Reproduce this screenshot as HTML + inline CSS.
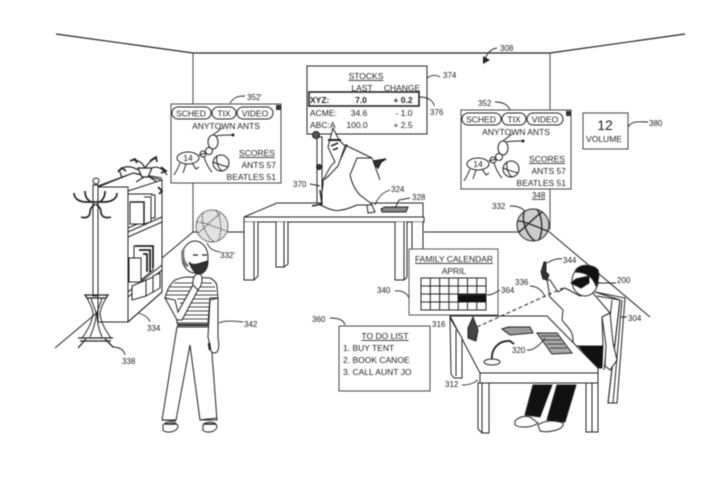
<!DOCTYPE html>
<html><head><meta charset="utf-8"><style>
html,body{margin:0;padding:0;background:#fff}
svg{display:block;filter:blur(.45px)}
text{font-family:"Liberation Sans",sans-serif;font-size:8.5px;fill:#222}
.n{font-size:8px}
.m{text-anchor:middle}
.e{text-anchor:end}
.f{fill:#fff}
</style></head><body>
<svg width="726" height="486" viewBox="0 0 726 486" fill="none" stroke="#222" stroke-width="1">
<!-- room -->
<path d="M56 34L193 53H550L685 34" stroke-width="1.2"/>
<path d="M193 53V232M550 53V230" stroke="#555" stroke-width="1.1"/>
<path d="M55 348L193 232H244M424 232H533M547 230L650 317"/>
<!-- back table -->
<path class="f" d="M244 217L277 203H423V217Z"/>
<path d="M244 217V222H424V217M244 217H424"/>
<path class="f" d="M244 222V280H254L258 276V222M276 222V267H284L288 264V222M395 222V280H404L407 277V222M412 222V250H423V222"/>
<path d="M254 222V280M284 222V267M404 222V280"/>
<!-- balls -->
<circle cx="212" cy="226" r="16" fill="#e2e2e2" stroke-dasharray="1.500 1"/><path d="M197 222C205 222 222 230 227 231M203 213C200 225 208 238 214 242M216 210C222 220 222 232 218 241M198 233C205 228 215 216 222 213" stroke="#555" stroke-dasharray="2 1"/>
<circle cx="533" cy="225" r="16" fill="#ccc"/><path d="M518 221C526 221 543 230 548 231M524 212C521 224 529 237 535 241M537 209C543 219 543 231 539 240M519 232C526 227 536 215 543 212" stroke-width="1.3"/>
<!-- bookcase -->
<path class="f" d="M98 187L133 173L162 180V292L128 322H98Z"/>
<path d="M98 187H128V322H98M98 186L133 173L162 178M128 191L162 180V292M128 322L162 292"/>
<path d="M128 232L162 217M128 237L162 222M128 292L162 265M128 297L162 270"/>
<path class="f" d="M128 194H152V218L128 228Z"/>
<path class="f" d="M130 202H144V224H130ZM144 197H151V222L144 224M151 195H155V218H151"/>
<path d="M130 202H144V224" stroke-width="1.500"/>
<path class="f" d="M129 258H141V282H129Z"/><path class="f" d="M134 246H153V270L141 280V258H134Z"/>
<path d="M135 246H153V268M139 250H150V272M143 254H147V272" stroke-width="1.8"/>
<path class="f" d="M132 286L146 280V296L132 300ZM146 280L153 277V292L146 296ZM153 276L160 273V288L153 292Z"/>
<!-- plant -->
<g stroke-width="1.2"><path class="f" d="M138 168H152L148 177H142Z"/><path d="M118 171C124 165 132 166 138 170M122 178L120 172M132 160C138 160 142 162 145 168M145 168C150 160 156 158 156 158M152 168C158 165 164 170 167 175M148 176L157 182M144 177L136 182"/><path d="M118 172l4-4 4 3M130 161l5-2 2 4M150 161l6-4 1 5M161 167l5 4-5 2M158 187l4 4-3 3" stroke-width="1.700"/></g>
<!-- hat stand -->
<path class="f" d="M93 185H98V296H93Z"/><circle class="f" cx="96" cy="181" r="3"/>
<g stroke-width="1.700">
<path d="M74 193C74 199 80 202 86 202H104C111 202 117 199 117 193M85 191C85 198 88 200 91 202M105 191C105 198 102 200 100 202"/>
<path d="M81 217C87 219 90 216 90 212C90 208 93 206 95 204M111 217C105 219 101 216 101 212C101 208 98 206 96 204"/>
</g>
<path d="M85 295H108L106 298H87Z" stroke-width="1.300"/>
<path d="M87 298C90 304 93 309 93 314C92 322 88 330 82 338M106 298C103 304 100 309 100 314C101 322 105 330 111 338M91 298C93 306 96 310 96 314C96 322 93 330 90 337M102 298C100 306 97 310 97 314C97 322 99 330 102 337"/>
<path d="M78 338H113M78 348L86 339M113 347L105 339M80 341H111" stroke-width="1.300"/>
<!-- man -->
<path class="f" d="M177 327L162 420H176L190 345L200 420H217L210 327Z"/>
<path d="M162 420L176 421M200 420L217 418"/>
<path class="f" d="M163 425C166 421 176 421 178 426C178 432 166 434 163 430ZM203 425C206 421 215 421 217 426C217 432 206 434 203 430Z"/>
<path d="M203 424H216M165 424H176" stroke-width="1.6"/>
<path class="f" d="M175 280C180 278 185 277 188 277L210 278C214 280 217 283 217 287L218 298H210L208 323H177L176 312L165 298C167 290 170 284 175 280Z"/>
<path d="M174 283H212M170 287H215M168 291H216M166 295H217M177 299H210M180 303H209M180 307H209M180 311H209M180 315H209M180 319H209" stroke="#444" stroke-width=".9"/>
<path d="M177 325H209" stroke-width="2"/>
<path class="f" d="M165 298L177 320H182L198 290L197 282L193 285L178 312L175 300Z"/>
<path class="f" d="M193 285C192 278 196 272 200 274C203 276 203 284 198 290Z"/>
<path class="f" d="M210 300L208 337L210 345C208 352 216 356 218 350C220 346 218 340 218 337V298Z"/>
<path d="M209 343L210 350" stroke-width="2.5"/>
<ellipse class="f" cx="195" cy="257" rx="13" ry="16"/>
<path d="M183 250C182 258 184 264 188 266" stroke="#777" stroke-width="3"/>
<path d="M189 262C193 267 200 263 208 261C208 268 205 273 200 274C196 275 192 270 189 262Z" fill="#333"/>
<path d="M193 255h5M202 255h5" stroke-width="1.300"/>
<!-- stock panel -->
<rect class="f" x="307" y="66" width="120" height="68"/>
<rect x="309" y="92" width="110" height="14" stroke-width="1.6"/>
<text x="366" y="79" class="m" text-decoration="underline" stroke="none">STOCKS</text>
<text x="362" y="91" class="m" stroke="none">LAST</text><text x="402" y="91" class="m" stroke="none">CHANGE</text>
<g stroke="none"><text x="310" y="103" style="font-weight:700">XYZ:</text><text x="361" y="103" class="m" style="font-weight:700">7.0</text><text x="403" y="103" class="m" style="font-weight:700">+ 0.2</text>
<text x="310" y="116">ACME:</text><text x="359" y="116" class="m">34.6</text><text x="404" y="116" class="m">- 1.0</text>
<text x="310" y="128">ABC:A</text><text x="357" y="128" class="m">100.0</text><text x="403" y="128" class="m">+ 2.5</text></g>
<!-- wizard -->
<path class="f" d="M345 145L372 158L380 180L372 158L357 158L350 175C352 184 355 190 360 195C366 200 370 202 372 205L357 205C350 208 340 212 333 210C328 209 323 206 320 205L323 185V180L337 167L347 145Z"/>
<path class="f" d="M323 180C328 172 330 165 335 162L328 147L333 128L339 140L345 146L338 166C332 172 328 178 323 180Z"/>
<path d="M328 140H341" stroke-width="2"/>
<path d="M331 146L338 143M333 150L338 148" stroke-width="1.500"/>
<path class="f" d="M317 137H322V203H317Z"/><circle cx="316" cy="135" r="3.500" fill="#555"/>
<path d="M312 206L322 204L320 190" stroke-width="1.500"/><circle cx="319" cy="167" r="2.500" fill="#333"/>
<path d="M374 161l12-2-5 3-3 6-3-3z" stroke-width="1.500" fill="#333"/>
<path class="f" d="M367 205L372 205L375 212L368 213Z"/>
<!-- notebook etc. -->
<path d="M381 209L385 207H408L406 212H382Z" fill="#888"/>
<!-- panel 352' -->
<rect class="f" x="171" y="104" width="110" height="79" stroke="#444"/>
<rect x="276" y="105" width="5" height="5" fill="#333" stroke="none"/>
<rect x="172" y="107" width="39" height="12" rx="6"/><rect x="212" y="107" width="24" height="12" rx="6"/><rect x="237" y="107" width="36" height="12" rx="6"/>
<g stroke="none"><text x="191" y="116.500" class="m">SCHED</text><text x="224" y="116.500" class="m">TIX</text><text x="255" y="116.500" class="m">VIDEO</text>
<text x="226" y="129" class="m">ANYTOWN ANTS</text>
<text x="257" y="156" class="m" text-decoration="underline">SCORES</text><text x="276" y="168" class="e">ANTS  57</text><text x="276" y="180" class="e">BEATLES  51</text></g>
<ellipse class="f" cx="213" cy="142" rx="5" ry="7"/><path d="M213 135L222 128M216 136C220 135 228 135 233 135"/><circle cx="233" cy="135" r="1" fill="#222"/>
<circle class="f" cx="209" cy="151" r="3.500"/><circle class="f" cx="203" cy="154" r="3"/><ellipse class="f" cx="188" cy="158" rx="11" ry="6"/>
<path d="M199 155L206 153M180 163C178 168 176 172 174 175M186 164L183 173M192 163L196 169L199 167M204 157C206 163 208 168 212 172"/><circle class="f" cx="221" cy="163" r="8"/><path d="M213 162C218 164 224 166 228 167M217 156C216 162 218 168 222 171"/>
<text x="188" y="161" class="m" stroke="none">14</text>
<!-- panel 352 -->
<rect class="f" x="461" y="110" width="110" height="79" stroke="#444"/>
<rect x="566" y="111" width="5" height="5" fill="#333" stroke="none"/>
<rect x="462" y="113" width="39" height="12" rx="6"/><rect x="502" y="113" width="24" height="12" rx="6"/><rect x="527" y="113" width="36" height="12" rx="6"/>
<g stroke="none"><text x="481" y="122.500" class="m">SCHED</text><text x="514" y="122.500" class="m">TIX</text><text x="545" y="122.500" class="m">VIDEO</text>
<text x="516" y="135" class="m">ANYTOWN ANTS</text>
<text x="547" y="162" class="m" text-decoration="underline">SCORES</text><text x="566" y="174" class="e">ANTS  57</text><text x="566" y="186" class="e">BEATLES  51</text></g>
<g transform="translate(290 6)"><ellipse class="f" cx="213" cy="142" rx="5" ry="7"/><path d="M213 135L222 128M216 136C220 135 228 135 233 135"/><circle cx="233" cy="135" r="1" fill="#222"/>
<circle class="f" cx="209" cy="151" r="3.500"/><circle class="f" cx="203" cy="154" r="3"/><ellipse class="f" cx="188" cy="158" rx="11" ry="6"/>
<path d="M199 155L206 153M180 163C178 168 176 172 174 175M186 164L183 173M192 163L196 169L199 167M204 157C206 163 208 168 212 172"/><circle class="f" cx="221" cy="163" r="8"/><path d="M213 162C218 164 224 166 228 167M217 156C216 162 218 168 222 171"/></g>
<text x="478" y="167" class="m" stroke="none">14</text>
<!-- volume -->
<rect class="f" x="583" y="113" width="45" height="36" stroke="#444"/>
<text x="605" y="130" class="m" stroke="none" style="font-size:14px">12</text>
<text x="604" y="142" class="m" stroke="none" style="font-size:8.500px">VOLUME</text>
<!-- chair -->
<path class="f" d="M595 292L625 298L617 403H608L620 300Z"/><path d="M597 296L620 300L608 403M612 300L604 370M622 300L613 403"/>
<!-- seated person -->
<path d="M533 385H552L540 417L525 415ZM557 385H576L565 422L547 420Z" fill="#111"/>
<path d="M578 345H603L602 368H595Z" fill="#111"/>
<path class="f" d="M515 421C520 416 526 416 530 417L538 423C532 428 520 428 515 425ZM538 425C545 420 555 420 563 423C565 430 548 433 540 431Z"/>
<path class="f" d="M563 310L562 320C566 326 573 330 573 340V346H603L602 317L610 313L593 293L580 296L565 288L558 292L550 280L547 280L550 297Z"/>
<path class="f" d="M610 313L613 343L617 360L610 370L605 366L606 345L602 317Z"/>
<path d="M541 272L544 262L546 262L546 272L549 275L547 280L543 279Z" fill="#333"/>
<ellipse class="f" cx="585" cy="281" rx="13" ry="15"/>
<path d="M575 272C577 264 592 263 598 270C600 276 598 282 596 286C593 278 588 272 575 272Z" fill="#111"/>
<path d="M571 283L576 279L589 276L589 283L581 288L575 285Z" fill="#111"/>
<path d="M595 283L600 283" stroke-width="1.300"/>
<!-- desk -->
<path class="f" d="M450 316H547L598 368V383H480V373Z"/>
<path d="M480 373H598M480 373V383"/>
<path class="f" d="M450 318L462 338V378H454L451 374ZM478 383H489V433H482L478 429ZM586 383H598V432H586Z"/>
<path d="M482 383V433M592 383V432M456 330V376"/>
<path d="M502 329L508 327H530L533 333L510 335Z" fill="#999"/>
<path d="M537 333H557L572 353L552 354Z" fill="#aaa"/>
<path d="M541 336H558M544 340H561M547 344H564M550 348H567" stroke-width=".8"/>
<ellipse class="f" cx="492" cy="362" rx="8" ry="3"/>
<path d="M492 359C491 350 498 340 510 341L514 344" stroke-width="1.8"/>
<path d="M473 317L478 330L476 341L468 338L468 328Z" fill="#444"/>
<path d="M477 327L563 288" stroke-dasharray="4 2.500"/>
<!-- calendar -->
<rect class="f" x="409" y="249" width="89" height="66" stroke="#555"/>
<text x="454" y="262" class="m" text-decoration="underline" stroke="none">FAMILY CALENDAR</text>
<text x="454" y="274" class="m" stroke="none">APRIL</text>
<path d="M421 278H486V310H421ZM421 286H486M421 294H486M421 302H486M430.300 278V310M439.600 278V310M448.900 278V310M458.200 278V310M467.500 278V310M476.800 278V310"/>
<rect x="458" y="295" width="28" height="7" fill="#111"/>
<!-- to do -->
<rect class="f" x="339" y="326" width="91" height="65" stroke="#444"/>
<g stroke="none"><text x="385" y="339" class="m" text-decoration="underline">TO DO LIST</text>
<text x="343" y="351">1. BUY TENT</text><text x="343" y="363">2. BOOK CANOE</text><text x="343" y="375">3. CALL AUNT JO</text></g>
<!-- leaders -->
<g stroke-width=".9">
<path d="M230 103C234 97 238 96 245 96M427 78C431 75 435 74 440 77M419 97C428 97 434 101 434 106M495 102C503 102 508 105 510 110M628 127C632 120 640 122 648 122M510 206C518 206 523 208 525 212M207 243C210 250 215 251 220 252M310 184L320 186M375 205C378 197 383 192 390 190M395 208L399 200L410 198M138 313C145 315 149 318 150 322M112 347C120 347 124 350 125 355M219 323C224 320 235 321 243 322M395 291C402 290 407 293 409 298M487 295C493 295 496 292 500 290M530 286C537 286 543 291 545 297M547 263C552 260 557 258 562 259M598 283H616M620 317L627 317M527 350C533 351 540 345 545 338M462 385C470 385 474 383 478 380M330 318C338 318 344 320 345 325"/>
<path d="M497 48C490 49 486 54 484 63"/>
</g>
<path d="M483 64L483 56L490 60Z" fill="#222" stroke="none"/>
<!-- labels -->
<g stroke="none">
<text class="n" x="247" y="100">352'</text><text class="n" x="443" y="78">374</text><text class="n" x="430" y="115">376</text><text class="n" x="500" y="51">308</text><text class="n" x="478" y="106">352</text><text class="n" x="649" y="126">380</text><text class="n" x="532" y="198" text-decoration="underline">348</text><text class="n" x="492" y="209">332</text><text class="n" x="220" y="258">332'</text><text class="n" x="293" y="187">370</text><text class="n" x="391" y="192">324</text><text class="n" x="412" y="200">328</text><text class="n" x="147" y="331">334</text><text class="n" x="122" y="364">338</text><text class="n" x="244" y="327">342</text><text class="n" x="377" y="293">340</text><text class="n" x="501" y="293">364</text><text class="n" x="515" y="285">336</text><text class="n" x="563" y="263">344</text><text class="n" x="617" y="283">200</text><text class="n" x="628" y="321">304</text><text class="n" x="432" y="327">316</text><text class="n" x="512" y="353">320</text><text class="n" x="445" y="387">312</text><text class="n" x="312" y="322">360</text>
</g>
</svg>
</body></html>
